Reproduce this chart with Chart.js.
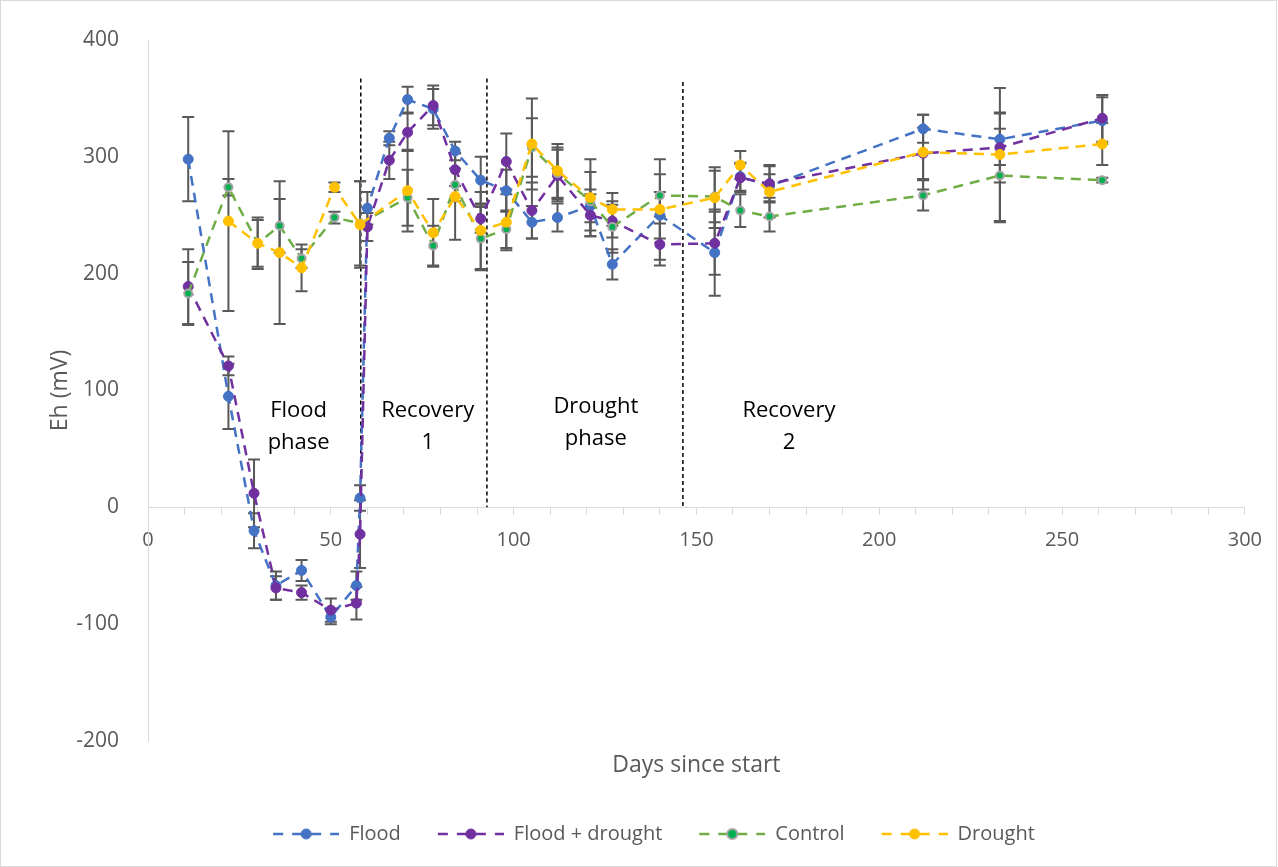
<!DOCTYPE html>
<html>
<head>
<meta charset="utf-8">
<title>Eh over time</title>
<script src="https://cdn.jsdelivr.net/npm/chart.js@4.4.1/dist/chart.umd.min.js"></script>
<style>
    html, body { margin: 0; padding: 0; background: #fff; }
    #frame { position: absolute; left: 0; top: 0; border: 1px solid #d9d9d9; }
    canvas { display: block; }
</style>
</head>
<body>
<div id="frame"><canvas id="ehChart" width="1275" height="865"></canvas></div>
<script>
// --- data (days since start, Eh in mV, +/- error) ---
const floodDays = [11, 22, 29, 35, 42, 50, 57, 58, 60, 66, 71, 78, 84, 91, 98, 105, 112, 121, 127, 140, 155, 162, 170, 212, 233, 261];
const floodEh = [298, 95, -20, -67, -54, -94, -67, 8, 256, 316, 349, 341, 305, 280, 271, 244, 248, 258, 208, 250, 218, 283, 275, 324, 315, 331];
const floodErr = [36, 28, 15, 12, 9, 6, 12, 11, 14, 6, 11, 17, 8, 20, 18, 14, 12, 14, 13, 20, 37, 12, 10, 12, 22, 20];

const floodDroughtDays = [11, 22, 29, 35, 42, 50, 57, 58, 60, 66, 71, 78, 84, 91, 98, 105, 112, 121, 127, 140, 155, 162, 170, 212, 233, 261];
const floodDroughtEh = [189, 121, 12, -69, -73, -88, -82, -23, 240, 297, 321, 344, 289, 247, 296, 254, 284, 250, 245, 225, 226, 282, 277, 303, 308, 333];
const floodDroughtErr = [32, 8, 29, 10, 6, 10, 14, 29, 12, 16, 16, 17, 14, 12, 24, 24, 22, 18, 14, 18, 27, 12, 16, 22, 30, 20];

const controlDays = [11, 22, 30, 36, 42, 51, 58, 71, 78, 84, 91, 98, 105, 112, 121, 127, 140, 155, 162, 170, 212, 233, 261];
const controlEh = [183, 274, 226, 241, 213, 248, 243, 265, 224, 276, 230, 238, 308, 286, 262, 240, 267, 266, 254, 249, 267, 284, 280];
const controlErr = [27, 7, 22, 23, 8, 5, 36, 24, 17, 14, 27, 16, 25, 22, 25, 22, 18, 22, 14, 13, 13, 40, 2];

const droughtDays = [22, 30, 36, 42, 51, 58, 71, 78, 84, 91, 98, 105, 112, 121, 127, 140, 155, 162, 170, 212, 233, 261];
const droughtEh = [245, 226, 218, 205, 274, 242, 271, 235, 266, 237, 244, 311, 288, 265, 255, 255, 265, 293, 270, 304, 302, 311];
const droughtErr = [77, 20, 61, 20, 4, 37, 35, 29, 37, 33, 24, 39, 23, 33, 14, 43, 26, 12, 22, 32, 57, 18];

// phase boundaries (day) and how high the dashed marker goes (mV)
const phaseBounds = [58.2, 92.7, 146.3];
const phaseTops = [367, 367, 364];

// phase captions: two lines, anchored at (day, mV) of the first line
const phaseNames = [['Flood', 'phase'], ['Recovery', '1'], ['Drought', 'phase'], ['Recovery', '2']];
const phaseNameDays = [41.2, 76.5, 122.5, 175.3];
const phaseNameEh = [83, 83, 86.5, 83];

const xTicks = { min: 0, max: 300, step: 10, labelEvery: 50 };
const yTicks = { min: -200, max: 400, step: 100 };

const FONT = "'Open Sans', 'Liberation Sans', sans-serif";
const GREY_TEXT = '#595959';
const AXIS_GREY = '#d9d9d9';
const DASH = [10, 7];

function toPoints(days, values) {
    return days.map((d, i) => ({ x: d, y: values[i] }));
}

// legend icon: "- -●- -" drawn on a little canvas, with empty room on the left for spacing
function legendIcon(lineColor, fill, stroke) {
    const c = document.createElement('canvas');
    c.width = 93; c.height = 14;
    const g = c.getContext('2d');
    g.strokeStyle = lineColor;
    g.lineWidth = 2.5;
    g.setLineDash([10, 9]);
    g.beginPath(); g.moveTo(27, 7); g.lineTo(93, 7); g.stroke();
    g.setLineDash([]);
    g.beginPath(); g.arc(60, 7, 5, 0, Math.PI * 2);
    g.fillStyle = fill; g.fill();
    g.lineWidth = stroke ? 2 : 1;
    g.strokeStyle = stroke || fill; g.stroke();
    return c;
}

function series(label, days, values, errs, color, order, extra = {}) {
    return Object.assign({
        label: label,
        data: toPoints(days, values),
        errors: errs,
        borderColor: color,
        backgroundColor: color,
        borderWidth: 2.5,
        borderDash: DASH,
        pointRadius: 5,
        pointBorderWidth: 1,
        pointBorderColor: color,
        pointBackgroundColor: color,
        pointHoverRadius: 5,
        tension: 0,
        order: order
    }, extra);
}

const datasets = [
    series('Flood', floodDays, floodEh, floodErr, '#4472c4', 4),
    series('Flood + drought', floodDroughtDays, floodDroughtEh, floodDroughtErr, '#7030a0', 3),
    series('Control', controlDays, controlEh, controlErr, '#70ad47', 2, {
        pointRadius: 4, pointBorderWidth: 2, pointBorderColor: '#a5a5a5', pointBackgroundColor: '#00b050'
    }),
    series('Drought', droughtDays, droughtEh, droughtErr, '#ffc000', 1)
];

const legendIcons = [
    legendIcon('#4472c4', '#4472c4'),
    legendIcon('#7030a0', '#7030a0'),
    legendIcon('#70ad47', '#00b050', '#a5a5a5'),
    legendIcon('#ffc000', '#ffc000')
];

const errorBars = {
    id: 'errorBars',
    beforeDatasetsDraw(chart) {
        const { ctx, scales: { x, y } } = chart;
        ctx.save();
        ctx.strokeStyle = '#595959';
        ctx.lineWidth = 2;
        chart.data.datasets.forEach((ds) => {
            if (!ds.errors) return;
            ds.data.forEach((p, i) => {
                const e = ds.errors[i];
                const px = x.getPixelForValue(p.x);
                const top = y.getPixelForValue(p.y + e);
                const bot = y.getPixelForValue(p.y - e);
                ctx.beginPath();
                ctx.moveTo(px, top); ctx.lineTo(px, bot);
                ctx.moveTo(px - 6, top); ctx.lineTo(px + 6, top);
                ctx.moveTo(px - 6, bot); ctx.lineTo(px + 6, bot);
                ctx.stroke();
            });
        });
        ctx.restore();
    }
};

const phaseMarks = {
    id: 'phaseMarks',
    beforeDatasetsDraw(chart) {
        const { ctx, scales: { x, y } } = chart;
        ctx.save();
        ctx.strokeStyle = '#000';
        ctx.lineWidth = 1.5;
        ctx.setLineDash([4, 3]);
        phaseBounds.forEach((d, i) => {
            const px = x.getPixelForValue(d);
            ctx.beginPath();
            ctx.moveTo(px, y.getPixelForValue(phaseTops[i]));
            ctx.lineTo(px, y.getPixelForValue(0));
            ctx.stroke();
        });
        ctx.setLineDash([]);
        ctx.fillStyle = '#000';
        ctx.font = '22px ' + FONT;
        ctx.textAlign = 'center';
        ctx.textBaseline = 'middle';
        phaseNames.forEach((lines, i) => {
            const px = x.getPixelForValue(phaseNameDays[i]);
            const py = y.getPixelForValue(phaseNameEh[i]);
            lines.forEach((t, k) => ctx.fillText(t, px, py + k * 32));
        });
        ctx.restore();
    }
};

const axisTitles = {
    id: 'axisTitles',
    afterDraw(chart) {
        const { ctx, chartArea } = chart;
        ctx.save();
        ctx.fillStyle = GREY_TEXT;
        ctx.font = '23px ' + FONT;
        ctx.textAlign = 'center';
        ctx.textBaseline = 'middle';
        ctx.fillText('Days since start', (chartArea.left + chartArea.right) / 2, chartArea.bottom + 24);
        ctx.translate(59, (chartArea.top + chartArea.bottom) / 2);
        ctx.rotate(-Math.PI / 2);
        ctx.fillText('Eh (mV)', 0, 0);
        ctx.restore();
    }
};

new Chart(document.getElementById('ehChart').getContext('2d'), {
    type: 'line',
    data: { datasets: datasets },
    options: {
        responsive: false,
        animation: false,
        events: [],
        layout: { padding: { left: 35, right: 31, top: 39, bottom: 12 } },
        scales: {
            x: {
                type: 'linear',
                position: { y: 0 },
                min: xTicks.min,
                max: xTicks.max,
                grid: { drawOnChartArea: false, drawTicks: true, tickLength: 7, color: AXIS_GREY },
                border: { color: AXIS_GREY, width: 1 },
                ticks: {
                    stepSize: xTicks.step,
                    autoSkip: false,
                    maxRotation: 0,
                    padding: 14,
                    color: GREY_TEXT,
                    font: { family: FONT, size: 20 },
                    callback: (v) => (v % xTicks.labelEvery === 0 ? v : '')
                }
            },
            y: {
                type: 'linear',
                min: yTicks.min,
                max: yTicks.max,
                afterFit: (scale) => { scale.width = 112; },
                grid: { display: false },
                border: { color: AXIS_GREY, width: 1 },
                ticks: {
                    stepSize: yTicks.step,
                    padding: 21,
                    color: GREY_TEXT,
                    font: { family: FONT, size: 21 }
                }
            }
        },
        plugins: {
            tooltip: { enabled: false },
            legend: {
                position: 'bottom',
                title: { display: true, text: '', font: { size: 20 }, padding: { top: 49, bottom: 0 } },
                labels: {
                    usePointStyle: true,
                    pointStyleWidth: 93,
                    padding: 10,
                    color: GREY_TEXT,
                    font: { family: FONT, size: 20 },
                    sort: (a, b) => a.datasetIndex - b.datasetIndex,
                    generateLabels: (chart) => Chart.defaults.plugins.legend.labels.generateLabels(chart)
                        .map((item) => Object.assign(item, { pointStyle: legendIcons[item.datasetIndex] }))
                }
            }
        }
    },
    plugins: [phaseMarks, errorBars, axisTitles]
});
</script>
</body>
</html>
